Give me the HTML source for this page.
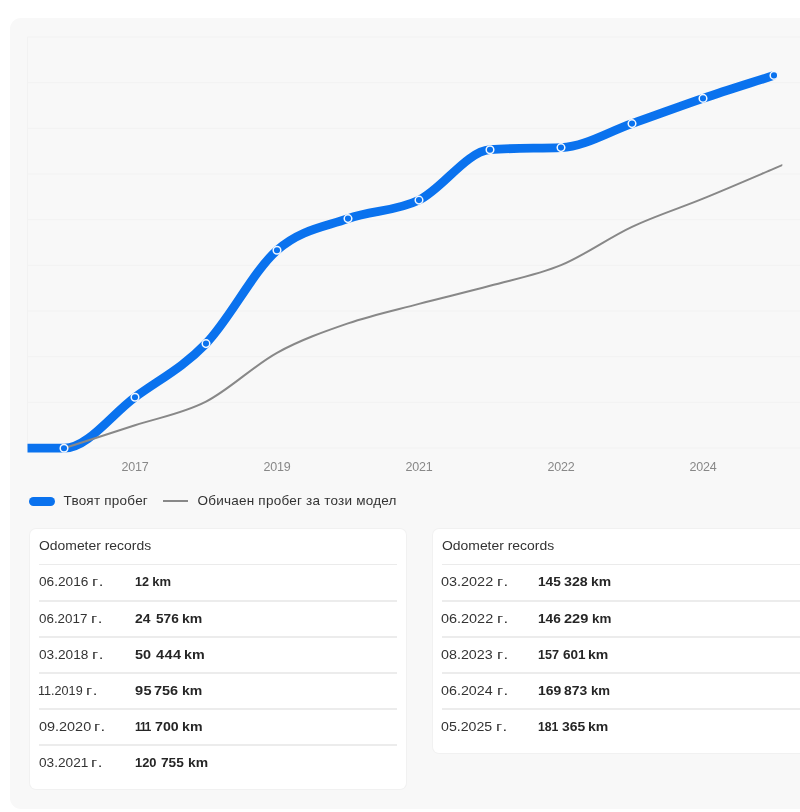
<!DOCTYPE html>
<html><head><meta charset="utf-8"><title>Odometer</title>
<style>
*{box-sizing:border-box;margin:0;padding:0}
html,body{width:800px;height:812px;overflow:hidden;background:#fff}
body{font-family:"Liberation Sans",sans-serif;position:relative;color:#333}
.outer{position:absolute;left:10px;top:18px;width:830px;height:790.5px;background:#f8f8f8;border-radius:11px}
svg{position:absolute;left:0;top:0}
svg,.card,.legend{will-change:transform}
.grid line{stroke:#f2f2f2;stroke-width:1}
.ax text{font-family:"Liberation Sans",sans-serif;font-size:12.5px;fill:#888;text-anchor:middle;letter-spacing:-0.2px}
.legend{position:absolute;top:492px;left:0;height:18px;font-size:13.5px;letter-spacing:0.23px;color:#333;white-space:nowrap}
.legend span{position:absolute;top:0;line-height:18px}
.pill{position:absolute;left:29px;top:5px;width:25.5px;height:9px;border-radius:5px;background:#0a72ee}
.gl{position:absolute;left:162.7px;top:8px;width:25px;height:2px;background:#888}
.card{position:absolute;top:529px;width:376px;background:#fff;border-radius:6px;padding:0 9px 8px 9px;box-shadow:0 0 0 1px #f1f1f1;font-size:13px}
.h{height:36px;line-height:35px;border-bottom:1px solid #ebebeb;color:#333;padding-top:0}
.r{height:36px;line-height:33px;border-top:1px solid #ececec;border-bottom:1px solid #ececec;position:relative;color:#333;white-space:nowrap}
.h span{display:inline-block;transform:scaleX(1.07);transform-origin:0 50%;position:relative;top:-0.7px;left:-0.4px}
.h+.r{border-top:0}
.r:last-child{border-bottom:0}
.d{position:absolute}
.v{position:absolute;font-weight:bold;color:#262626}
</style></head><body>
<div class="outer"></div>
<svg width="800" height="812" viewBox="0 0 800 812">
<g class="grid"><line x1="27.5" x2="800" y1="37.00" y2="37.00"/><line x1="27.5" x2="800" y1="82.67" y2="82.67"/><line x1="27.5" x2="800" y1="128.33" y2="128.33"/><line x1="27.5" x2="800" y1="174.00" y2="174.00"/><line x1="27.5" x2="800" y1="219.67" y2="219.67"/><line x1="27.5" x2="800" y1="265.33" y2="265.33"/><line x1="27.5" x2="800" y1="311.00" y2="311.00"/><line x1="27.5" x2="800" y1="356.67" y2="356.67"/><line x1="27.5" x2="800" y1="402.33" y2="402.33"/><line x1="27.5" x2="800" y1="448.00" y2="448.00"/><line x1="27.5" x2="27.5" y1="37" y2="448"/></g>
<defs><clipPath id="c"><rect x="27.5" y="30" width="754.8" height="430"/></clipPath></defs>
<g clip-path="url(#c)">
<path d="M-7.00 448.20 C16.67 448.20 40.33 448.20 64.00 448.20 C87.67 448.20 111.33 414.63 135.00 397.20 C158.67 379.77 182.33 368.08 206.00 343.60 C229.67 319.12 253.33 271.13 277.00 250.30 C300.67 229.47 324.33 226.97 348.00 218.60 C371.67 210.23 395.33 211.58 419.00 200.10 C442.67 188.62 466.33 151.58 490.00 149.70 C513.67 147.82 537.33 148.53 561.00 147.60 C584.67 146.67 608.33 131.80 632.00 123.60 C655.67 115.40 679.33 106.43 703.00 98.40 C726.67 90.37 750.33 83.07 774.00 75.40" fill="none" stroke="#0a72ee" stroke-width="8.8"/>
<path d="M64.00 448.20 C87.67 440.57 111.33 433.07 135.00 425.30 C158.67 417.53 182.33 413.68 206.00 401.60 C229.67 389.52 253.33 365.83 277.00 352.80 C300.67 339.77 324.33 331.55 348.00 323.40 C371.67 315.25 395.33 310.17 419.00 303.90 C442.67 297.63 466.33 292.25 490.00 285.80 C513.67 279.35 537.33 275.03 561.00 265.20 C584.67 255.37 608.33 237.90 632.00 226.80 C655.67 215.70 679.33 208.30 703.00 198.60 C726.67 188.90 750.33 178.70 774.00 168.60 C797.67 158.50 821.33 148.20 845.00 138.00" fill="none" stroke="#888" stroke-width="2"/>
</g>
<g fill="#0a72ee" stroke="#f3f8ff" stroke-width="1.5"><circle cx="64.00" cy="448.20" r="3.8"/><circle cx="135.00" cy="397.20" r="3.8"/><circle cx="206.00" cy="343.60" r="3.8"/><circle cx="277.00" cy="250.30" r="3.8"/><circle cx="348.00" cy="218.60" r="3.8"/><circle cx="419.00" cy="200.10" r="3.8"/><circle cx="490.00" cy="149.70" r="3.8"/><circle cx="561.00" cy="147.60" r="3.8"/><circle cx="632.00" cy="123.60" r="3.8"/><circle cx="703.00" cy="98.40" r="3.8"/><circle cx="774.00" cy="75.40" r="3.8"/></g>
<g class="ax"><text x="135" y="471.3">2017</text><text x="277" y="471.3">2019</text><text x="419" y="471.3">2021</text><text x="561" y="471.3">2022</text><text x="703" y="471.3">2024</text></g>
</svg>
<div class="legend"><i class="pill"></i><span style="left:63.5px">Твоят пробег</span><i class="gl"></i><span style="left:197.5px">Обичаен пробег за този модел</span></div>
<div class="card" style="left:29.5px"><div class="h"><span>Odometer records</span></div><div class="r"><span class="d" style="left:-0.42px;letter-spacing:0.00px;transform:scaleX(1.05);transform-origin:0 50%">06.2016</span><span class="d" style="left:52.80px;letter-spacing:1.96px;transform:scaleX(1.30);transform-origin:0 50%">г.</span><span class="v" style="left:95.77px;letter-spacing:0.00px;transform:scaleX(0.97);transform-origin:0 50%">12</span><span class="v" style="left:113.25px;letter-spacing:0.00px">km</span></div><div class="r"><span class="d" style="left:-0.41px;letter-spacing:0.00px;transform:scaleX(1.03);transform-origin:0 50%">06.2017</span><span class="d" style="left:51.95px;letter-spacing:2.00px;transform:scaleX(1.30);transform-origin:0 50%">г.</span><span class="v" style="left:95.96px;letter-spacing:0.00px;transform:scaleX(1.07);transform-origin:0 50%">24</span><span class="v" style="left:116.57px;letter-spacing:-0.00px;transform:scaleX(1.05);transform-origin:0 50%">576</span><span class="v" style="left:142.67px;letter-spacing:0.00px;transform:scaleX(1.08);transform-origin:0 50%">km</span></div><div class="r"><span class="d" style="left:-0.43px;letter-spacing:0.00px;transform:scaleX(1.05);transform-origin:0 50%">03.2018</span><span class="d" style="left:52.63px;letter-spacing:2.00px;transform:scaleX(1.30);transform-origin:0 50%">г.</span><span class="v" style="left:95.94px;letter-spacing:0.00px;transform:scaleX(1.11);transform-origin:0 50%">50</span><span class="v" style="left:116.62px;letter-spacing:0.36px;transform:scaleX(1.12);transform-origin:0 50%">444</span><span class="v" style="left:145.15px;letter-spacing:0.00px;transform:scaleX(1.10);transform-origin:0 50%">km</span></div><div class="r"><span class="d" style="left:-0.88px;letter-spacing:0.00px;transform:scaleX(0.97);transform-origin:0 50%">11.2019</span><span class="d" style="left:46.93px;letter-spacing:2.00px;transform:scaleX(1.30);transform-origin:0 50%">г.</span><span class="v" style="left:95.94px;letter-spacing:0.43px;transform:scaleX(1.12);transform-origin:0 50%">95</span><span class="v" style="left:115.34px;letter-spacing:0.00px;transform:scaleX(1.11);transform-origin:0 50%">756</span><span class="v" style="left:142.67px;letter-spacing:0.00px;transform:scaleX(1.08);transform-origin:0 50%">km</span></div><div class="r"><span class="d" style="left:-0.46px;letter-spacing:0.00px;transform:scaleX(1.11);transform-origin:0 50%">09.2020</span><span class="d" style="left:55.30px;letter-spacing:1.81px;transform:scaleX(1.30);transform-origin:0 50%">г.</span><span class="v" style="left:95.82px;letter-spacing:-1.07px;transform:scaleX(0.90);transform-origin:0 50%">111</span><span class="v" style="left:116.35px;letter-spacing:0.00px;transform:scaleX(1.09);transform-origin:0 50%">700</span><span class="v" style="left:143.16px;letter-spacing:0.00px;transform:scaleX(1.09);transform-origin:0 50%">km</span></div><div class="r"><span class="d" style="left:-0.42px;letter-spacing:0.00px;transform:scaleX(1.05);transform-origin:0 50%">03.2021</span><span class="d" style="left:52.28px;letter-spacing:2.00px;transform:scaleX(1.30);transform-origin:0 50%">г.</span><span class="v" style="left:95.75px;letter-spacing:0.00px;transform:scaleX(0.99);transform-origin:0 50%">120</span><span class="v" style="left:122.22px;letter-spacing:0.00px;transform:scaleX(1.05);transform-origin:0 50%">755</span><span class="v" style="left:148.53px;letter-spacing:0.00px;transform:scaleX(1.07);transform-origin:0 50%">km</span></div></div>
<div class="card" style="left:433.1px"><div class="h"><span>Odometer records</span></div><div class="r"><span class="d" style="left:-0.65px;letter-spacing:0.00px;transform:scaleX(1.11);transform-origin:0 50%">03.2022</span><span class="d" style="left:55.10px;letter-spacing:1.85px;transform:scaleX(1.30);transform-origin:0 50%">г.</span><span class="v" style="left:95.61px;letter-spacing:0.00px;transform:scaleX(1.05);transform-origin:0 50%">145</span><span class="v" style="left:122.38px;letter-spacing:-0.00px;transform:scaleX(1.09);transform-origin:0 50%">328</span><span class="v" style="left:149.08px;letter-spacing:0.00px;transform:scaleX(1.07);transform-origin:0 50%">km</span></div><div class="r"><span class="d" style="left:-0.65px;letter-spacing:0.00px;transform:scaleX(1.11);transform-origin:0 50%">06.2022</span><span class="d" style="left:55.10px;letter-spacing:1.85px;transform:scaleX(1.30);transform-origin:0 50%">г.</span><span class="v" style="left:95.61px;letter-spacing:0.00px;transform:scaleX(1.05);transform-origin:0 50%">146</span><span class="v" style="left:122.09px;letter-spacing:0.00px;transform:scaleX(1.12);transform-origin:0 50%">229</span><span class="v" style="left:149.97px;letter-spacing:0.00px;transform:scaleX(1.03);transform-origin:0 50%">km</span></div><div class="r"><span class="d" style="left:-0.65px;letter-spacing:0.00px;transform:scaleX(1.10);transform-origin:0 50%">08.2023</span><span class="d" style="left:55.10px;letter-spacing:1.85px;transform:scaleX(1.30);transform-origin:0 50%">г.</span><span class="v" style="left:95.67px;letter-spacing:0.00px;transform:scaleX(0.97);transform-origin:0 50%">157</span><span class="v" style="left:121.13px;letter-spacing:0.00px;transform:scaleX(1.04);transform-origin:0 50%">601</span><span class="v" style="left:145.92px;letter-spacing:0.00px;transform:scaleX(1.08);transform-origin:0 50%">km</span></div><div class="r"><span class="d" style="left:-0.65px;letter-spacing:0.00px;transform:scaleX(1.10);transform-origin:0 50%">06.2024</span><span class="d" style="left:55.10px;letter-spacing:1.85px;transform:scaleX(1.30);transform-origin:0 50%">г.</span><span class="v" style="left:95.60px;letter-spacing:0.00px;transform:scaleX(1.07);transform-origin:0 50%">169</span><span class="v" style="left:122.12px;letter-spacing:0.00px;transform:scaleX(1.07);transform-origin:0 50%">873</span><span class="v" style="left:148.98px;letter-spacing:0.00px;transform:scaleX(1.02);transform-origin:0 50%">km</span></div><div class="r"><span class="d" style="left:-0.65px;letter-spacing:0.00px;transform:scaleX(1.09);transform-origin:0 50%">05.2025</span><span class="d" style="left:54.40px;letter-spacing:1.81px;transform:scaleX(1.30);transform-origin:0 50%">г.</span><span class="v" style="left:95.70px;letter-spacing:0.00px;transform:scaleX(0.94);transform-origin:0 50%">181</span><span class="v" style="left:119.73px;letter-spacing:0.00px;transform:scaleX(1.07);transform-origin:0 50%">365</span><span class="v" style="left:145.92px;letter-spacing:0.00px;transform:scaleX(1.08);transform-origin:0 50%">km</span></div></div>
</body></html>
